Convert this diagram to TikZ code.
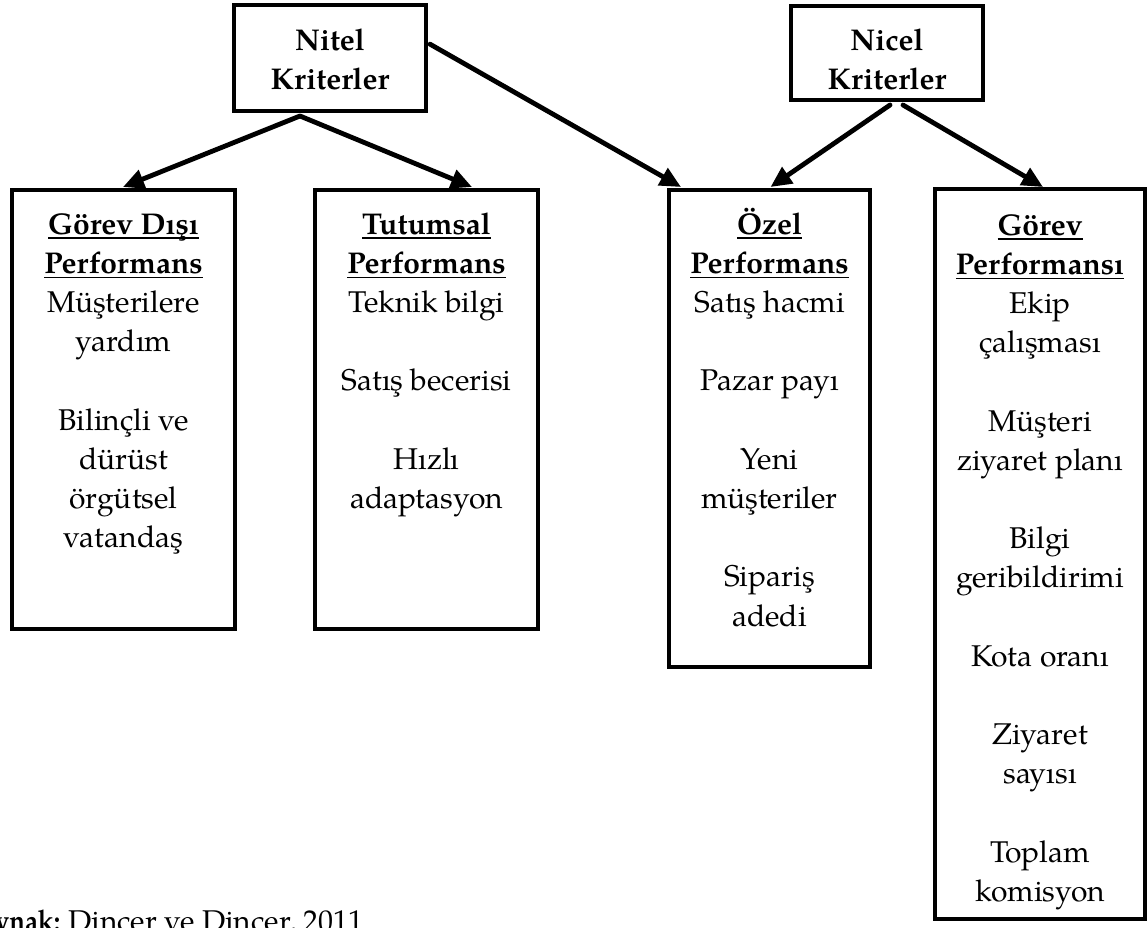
\documentclass[tikz,border=0pt]{standalone}
\usepackage{fontspec}
\setmainfont{texgyrepagella}[Extension=.otf, UprightFont=*-regular, BoldFont=*-bold, ItalicFont=*-italic, BoldItalicFont=*-bolditalic]
\usetikzlibrary{arrows.meta,calc}
\newcommand\myul[1]{\leavevmode\setbox0\hbox{#1}\rlap{\rule[-5pt]{\wd0}{1.6pt}}\box0}
\newcommand\blankln{\mbox{}\par}
\newcommand\cellbox[4]{\parbox[t][#2][t]{#1}{\centering\baselineskip=39.2pt\relax\lineskiplimit=-100pt\relax\lineskip=0pt\relax\parskip=0pt\relax\rule{0pt}{#3}#4\par}}
\tikzset{
  cell/.style={draw, line width=4pt, anchor=north west, inner sep=0pt, outer sep=0pt},
  arr/.style={line width=4.8pt, line cap=round, -{Triangle[length=21pt,width=19pt]}}
}
\begin{document}
\begin{tikzpicture}[x=1pt, y=-1pt, font=\fontsize{30pt}{39.2pt}\selectfont]
\useasboundingbox (0,0) rectangle (1148,927);
\node[cell] (nitel) at (234,5.3) {\cellbox{192pt}{105.7pt}{44.7pt}{\textbf{Nitel}\par \textbf{Kriterler}}};
\node[cell] (nicel) at (791,5.5) {\cellbox{192pt}{94.5pt}{44.5pt}{\textbf{Nicel}\par \textbf{Kriterler}}};
\node[cell] (b1) at (12,190) {\cellbox{223pt}{439pt}{44pt}{%
  \myul{\textbf{Görev Dışı}}\par \myul{\textbf{Performans}}\par
  Müşterilere\par yardım\par\blankln
  Bilinçli ve\par dürüst\par örgütsel\par vatandaş}};
\node[cell] (b2) at (315,190) {\cellbox{223pt}{439pt}{44pt}{%
  \myul{\textbf{Tutumsal}}\par \myul{\textbf{Performans}}\par
  Teknik bilgi\par\blankln
  Satış becerisi\par\blankln
  Hızlı\par adaptasyon}};
\node[cell] (b3) at (669,190) {\cellbox{201pt}{477pt}{44pt}{%
  \myul{\textbf{Özel}}\par \myul{\textbf{Performans}}\par
  Satış hacmi\par\blankln
  Pazar payı\par\blankln
  Yeni\par müşteriler\par\blankln
  Sipariş\par adedi}};
\node[cell] (b4) at (935,189) {\cellbox{210pt}{730pt}{46pt}{%
  \myul{\textbf{Görev}}\par \myul{\textbf{Performansı}}\par
  Ekip\par çalışması\par\blankln
  Müşteri\par ziyaret planı\par\blankln
  Bilgi\par geribildirimi\par\blankln
  Kota oranı\par\blankln
  Ziyaret\par sayısı\par\blankln
  Toplam\par komisyon}};
\node[anchor=base west, inner sep=0pt] (src) at (68,931) {\llap{\scalebox{0.86}[1]{\textbf{Kaynak:}}\hspace{8pt}}Dinçer ve Dinçer, 2011};
\draw[arr] ($(nitel.south)+(-30,5)$) -- ($(b1.north)+(-0.5,-3)$);
\draw[arr] ($(nitel.south)+(-30,5)$) -- ($(b2.north)+(45.5,-3)$);
\draw[arr] ($(nitel.east)+(4,-14)$) -- ($(b3.north west)+(12,-3)$);
\draw[arr] ($(nicel.south)+(3,5)$) -- ($(b3.north)+(1,-3)$);
\draw[arr] ($(nicel.south)+(16,5)$) -- ($(b4.north)+(3,-2)$);
\end{tikzpicture}
\end{document}
